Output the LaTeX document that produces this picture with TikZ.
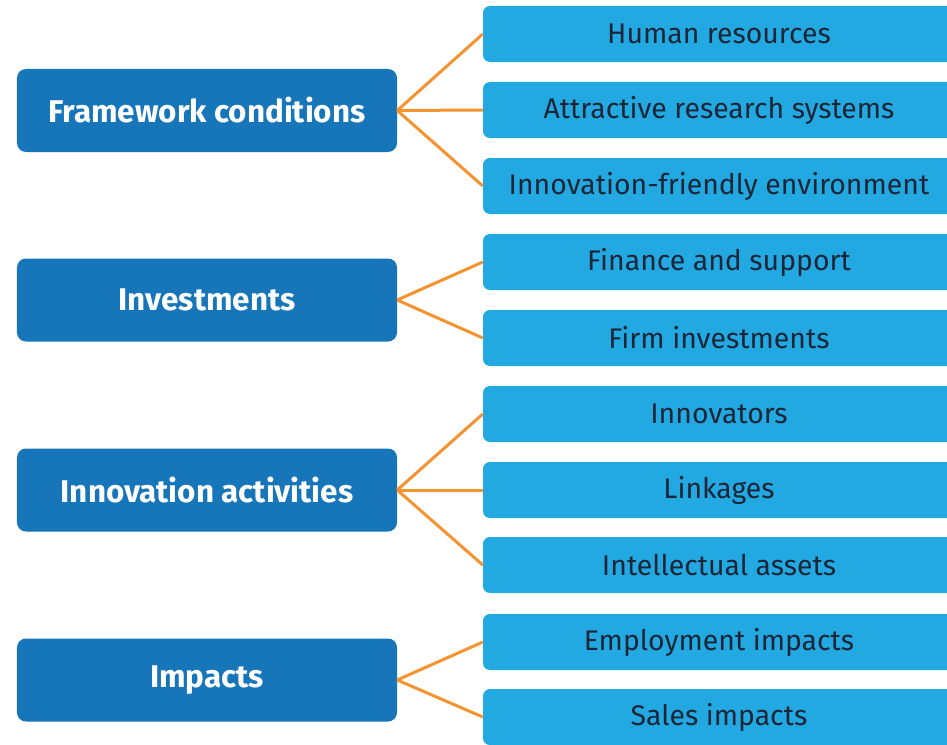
\documentclass[tikz,border=0pt]{standalone}
\usepackage{fontspec}
\setmainfont{Fira Sans}
\definecolor{groupblue}{RGB}{23,118,186}
\definecolor{itemblue}{RGB}{34,169,225}
\definecolor{linkorange}{RGB}{243,148,49}
\definecolor{itemtext}{RGB}{28,38,56}
\begin{document}
\begin{tikzpicture}[x=1bp,y=-1bp,
  group/.style={fill=groupblue, rounded corners=9bp, minimum width=380bp, minimum height=83bp, text=white, font=\fontsize{31.5}{36}\selectfont\bfseries},
  item/.style={fill=itemblue, rounded corners=7bp, minimum width=472bp, minimum height=56bp, text=itemtext, font=\fontsize{28.5}{33}\selectfont},
  link/.style={draw=linkorange, line width=3bp}]
\useasboundingbox (0,0) rectangle (947,745);
\node[group] (fc) at (207,110.5) {Framework conditions};
\node[group] (inv) at (207,300) {Investments};
\node[group] (act) at (207,490) {Innovation activities};
\node[group] (imp) at (207,680) {Impacts};
\node[item] (hr) at (719,34) {Human resources};
\node[item] (ars) at (719,110) {Attractive research systems};
\node[item] (ife) at (719,186) {Innovation-friendly environment};
\node[item] (fin) at (719,262) {Finance and support};
\node[item] (fi) at (719,338) {Firm investments};
\node[item] (inn) at (719,414) {Innovators};
\node[item] (lnk) at (719,490) {Linkages};
\node[item] (ia) at (719,565) {Intellectual assets};
\node[item] (emp) at (719,642) {Employment impacts};
\node[item] (sal) at (719,717) {Sales impacts};
\path[link] (fc.east) -- (hr.west);
\path[link] (fc.east) -- (ars.west);
\path[link] (fc.east) -- (ife.west);
\path[link] (inv.east) -- (fin.west);
\path[link] (inv.east) -- (fi.west);
\path[link] (act.east) -- (inn.west);
\path[link] (act.east) -- (lnk.west);
\path[link] (act.east) -- (ia.west);
\path[link] (imp.east) -- (emp.west);
\path[link] (imp.east) -- (sal.west);
\end{tikzpicture}
\end{document}
